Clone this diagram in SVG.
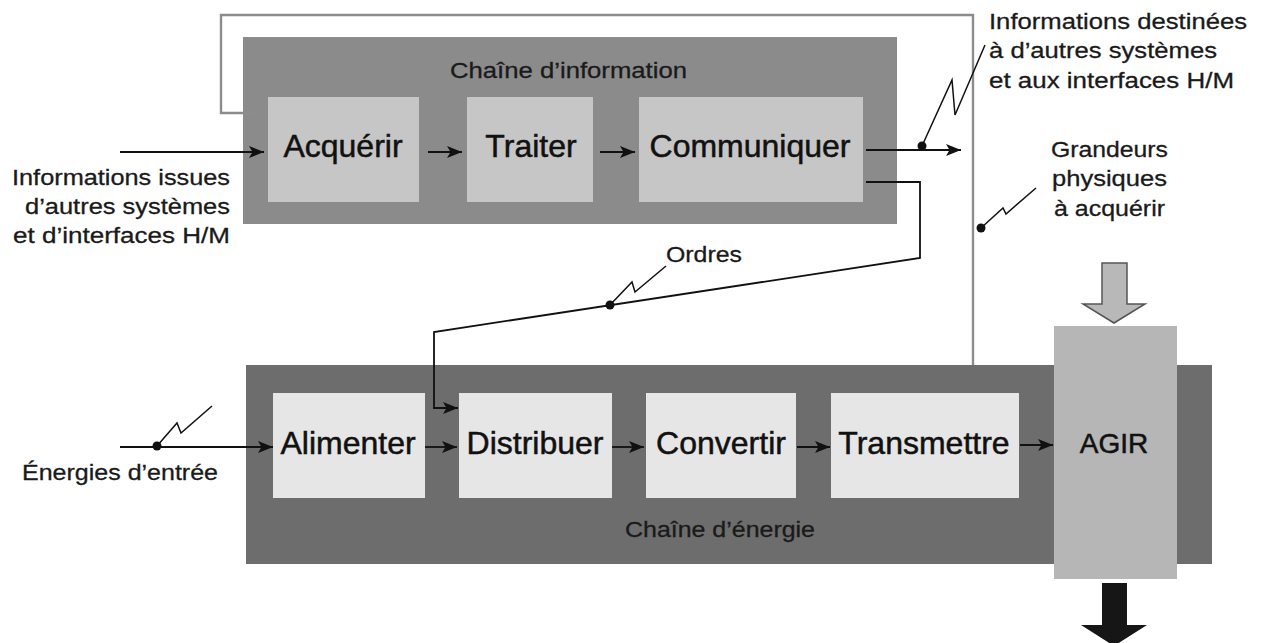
<svg xmlns="http://www.w3.org/2000/svg" width="1262" height="643" viewBox="0 0 1262 643">
<defs>
<style>
.lbl{font-family:"Liberation Sans",Arial,Helvetica,sans-serif;font-size:22.5px;fill:#1a1a1a;stroke:#1a1a1a;stroke-width:0.3}
.bt{font-family:"Liberation Sans",Arial,Helvetica,sans-serif;font-size:32px;fill:#111;stroke:#111;stroke-width:0.5;text-anchor:middle}
.wire{fill:none;stroke:#111;stroke-width:1.8}
.feed{fill:none;stroke:#8c8c8c;stroke-width:2.4}
.dot{fill:#111}
.ichain{fill:#8b8b8b}
.ibox{fill:#c6c6c6}
.echain{fill:#6d6d6d}
.ebox{fill:#e6e6e6}
</style>
<marker id="ah" markerWidth="16" markerHeight="14" refX="15" refY="7" orient="auto" markerUnits="userSpaceOnUse">
<path d="M0,1 L15,7 L0,13 L3.5,7 Z" fill="#111"/>
</marker>
</defs>
<rect width="1262" height="643" fill="#ffffff"/>

<!-- Information chain -->
<g id="chaine-information">
<rect class="ichain" x="243" y="37" width="654" height="187"/>
<text class="lbl" x="450" y="78" textLength="237" lengthAdjust="spacingAndGlyphs">Chaîne d’information</text>
</g>
<g id="acquerir">
<rect class="ibox" x="268" y="97" width="151" height="105"/>
<text class="bt" x="343" y="157">Acquérir</text>
</g>
<g id="traiter">
<rect class="ibox" x="467" y="97" width="126" height="105"/>
<text class="bt" x="531" y="157">Traiter</text>
</g>
<g id="communiquer">
<rect class="ibox" x="639" y="97" width="224" height="105"/>
<text class="bt" x="750" y="157">Communiquer</text>
</g>

<!-- Energy chain -->
<g id="chaine-energie">
<rect class="echain" x="246" y="365" width="966" height="199"/>
<text class="lbl" x="625" y="537" textLength="190" lengthAdjust="spacingAndGlyphs">Chaîne d’énergie</text>
</g>
<g id="alimenter">
<rect class="ebox" x="273" y="393" width="152" height="105"/>
<text class="bt" x="348" y="454">Alimenter</text>
</g>
<g id="distribuer">
<rect class="ebox" x="459" y="393" width="153" height="105"/>
<text class="bt" x="535" y="454">Distribuer</text>
</g>
<g id="convertir">
<rect class="ebox" x="646" y="393" width="150" height="105"/>
<text class="bt" x="721" y="454">Convertir</text>
</g>
<g id="transmettre">
<rect class="ebox" x="831" y="393" width="188" height="105"/>
<text class="bt" x="924" y="454">Transmettre</text>
</g>
<g id="agir">
<rect x="1054" y="326" width="123" height="253" fill="#b6b6b6"/>
<text class="bt" x="1114" y="453" style="font-size:28px">AGIR</text>
</g>

<!-- External labels -->
<g id="label-infos-entree">
<text class="lbl" x="12" y="185" textLength="218" lengthAdjust="spacingAndGlyphs">Informations issues</text>
<text class="lbl" x="25" y="214" textLength="205" lengthAdjust="spacingAndGlyphs">d’autres systèmes</text>
<text class="lbl" x="13" y="243" textLength="217" lengthAdjust="spacingAndGlyphs">et d’interfaces H/M</text>
</g>
<g id="label-infos-sortie">
<text class="lbl" x="989" y="29" textLength="258" lengthAdjust="spacingAndGlyphs">Informations destinées</text>
<text class="lbl" x="989" y="58" textLength="228" lengthAdjust="spacingAndGlyphs">à d’autres systèmes</text>
<text class="lbl" x="989" y="88" textLength="245" lengthAdjust="spacingAndGlyphs">et aux interfaces H/M</text>
</g>
<g id="label-grandeurs">
<text class="lbl" x="1051" y="157" textLength="117" lengthAdjust="spacingAndGlyphs">Grandeurs</text>
<text class="lbl" x="1052" y="186" textLength="115" lengthAdjust="spacingAndGlyphs">physiques</text>
<text class="lbl" x="1054" y="216" textLength="111" lengthAdjust="spacingAndGlyphs">à acquérir</text>
</g>
<g id="label-ordres">
<text class="lbl" x="666" y="262" textLength="76" lengthAdjust="spacingAndGlyphs">Ordres</text>
</g>
<g id="label-energies">
<text class="lbl" x="22" y="480" textLength="196" lengthAdjust="spacingAndGlyphs">Énergies d’entrée</text>
</g>

<!-- Big arrows -->
<g id="fleche-grandeurs">
<polygon points="1102,263 1127,263 1127,304 1145,304 1114,323 1083,304 1102,304" fill="#b8b8b8" stroke="#555" stroke-width="1.5"/>
</g>
<g id="fleche-sortie">
<polygon points="1102,583 1127,583 1127,625 1147,625 1114,646 1081,625 1102,625" fill="#161616"/>
</g>

<!-- Connectors -->
<g id="connecteurs">
<polyline class="feed" points="262,113 221,113 221,15 973,15 973,365"/>
<line class="wire" x1="120" y1="152" x2="264" y2="152" marker-end="url(#ah)"/>
<line class="wire" x1="428" y1="152" x2="462" y2="152" marker-end="url(#ah)"/>
<line class="wire" x1="600" y1="152" x2="635" y2="152" marker-end="url(#ah)"/>
<line class="wire" x1="866" y1="150" x2="961" y2="150" marker-end="url(#ah)"/>
<polyline class="wire" points="866,182 920,182 920,258 434,332 434,408 458,408" marker-end="url(#ah)"/>
<line class="wire" x1="120" y1="447" x2="273" y2="447" marker-end="url(#ah)"/>
<line class="wire" x1="425" y1="447" x2="457" y2="447" marker-end="url(#ah)"/>
<line class="wire" x1="612" y1="447" x2="644" y2="447" marker-end="url(#ah)"/>
<line class="wire" x1="797" y1="447" x2="830" y2="447" marker-end="url(#ah)"/>
<line class="wire" x1="1020" y1="445" x2="1053" y2="445" marker-end="url(#ah)"/>
<!-- lightning symbols -->
<polyline class="wire" style="stroke-width:1.5" points="922,146 952,80 955,115 985,45"/>
<circle class="dot" cx="922" cy="146" r="4.5"/>
<polyline class="wire" style="stroke-width:1.5" points="981,228 1003,208 1006,214 1036,188"/>
<circle class="dot" cx="981" cy="228" r="4.5"/>
<polyline class="wire" style="stroke-width:1.5" points="610,305 632,282 635,292 666,266"/>
<circle class="dot" cx="610" cy="305" r="4.5"/>
<polyline class="wire" style="stroke-width:1.5" points="157,446 177,423 181,433 212,406"/>
<circle class="dot" cx="157" cy="446" r="4.5"/>
</g>
</svg>
